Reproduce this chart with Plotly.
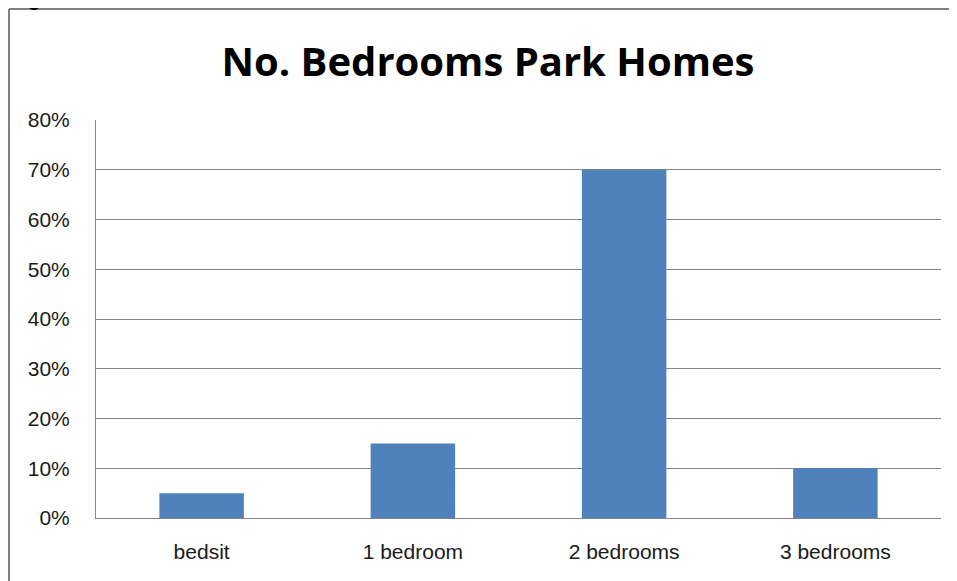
import plotly.graph_objects as go

categories = ["bedsit", "1 bedroom", "2 bedrooms", "3 bedrooms"]
values = [0.05, 0.15, 0.70, 0.10]
tick_vals = [0, 0.1, 0.2, 0.3, 0.4, 0.5, 0.6, 0.7, 0.8]
tick_text = ["0%", "10%", "20%", "30%", "40%", "50%", "60%", "70%", "80%"]
title_text = "No. Bedrooms Park Homes"

# page body offsets the figure by 8px; work in figure coordinates
OFF = 8
W, H = 957 - OFF, 581 - OFF
L, R, T = 96 - OFF, 16, 120 - OFF
B = H - (518 - OFF)
pw, ph = W - L - R, H - T - B

def px(x):
    return (x - OFF - L) / pw

def py(y):
    return (H - B - (y - OFF)) / ph

fig = go.Figure()
fig.add_trace(go.Bar(x=categories, y=values, marker=dict(color="#4F81BD", line=dict(width=0)), width=0.4))

fig.update_layout(
    width=W, height=H,
    margin=dict(l=L, r=R, t=T, b=B),
    plot_bgcolor="white", paper_bgcolor="white",
    showlegend=False,
    font=dict(family="Liberation Sans, Arial, sans-serif", color="#1a1a1a"),
    title=dict(text="<b>" + title_text + "</b>", xref="container", x=(488 - OFF) / W, xanchor="center",
               yref="container", y=1 - (62 - OFF) / H, yanchor="middle",
               font=dict(size=40, family="Open Sans, Liberation Sans, sans-serif", color="black")),
    xaxis=dict(showgrid=False, showline=True, linecolor="#868686", linewidth=1,
               ticks="", tickfont=dict(size=21), ticklabelstandoff=15),
    yaxis=dict(range=[0, 0.8], tickvals=tick_vals, ticktext=tick_text,
               showgrid=True, gridcolor="#868686", gridwidth=1,
               showline=True, linecolor="#868686", linewidth=1,
               ticks="", tickfont=dict(size=21), zeroline=False, ticklabelstandoff=21),
    shapes=[
        dict(type="line", xref="paper", yref="paper", x0=px(9), x1=px(9), y0=py(9), y1=py(600),
             line=dict(color="#808080", width=2)),
        dict(type="line", xref="paper", yref="paper", x0=px(9), x1=px(990), y0=py(9), y1=py(9),
             line=dict(color="#808080", width=2)),
    ],
    annotations=[
        dict(text="<b>g</b>", xref="paper", yref="paper", x=px(34), y=py(OFF + 4), xanchor="center",
             yanchor="bottom", showarrow=False, font=dict(size=20, color="black")),
    ],
)

fig.write_html("out.html")
